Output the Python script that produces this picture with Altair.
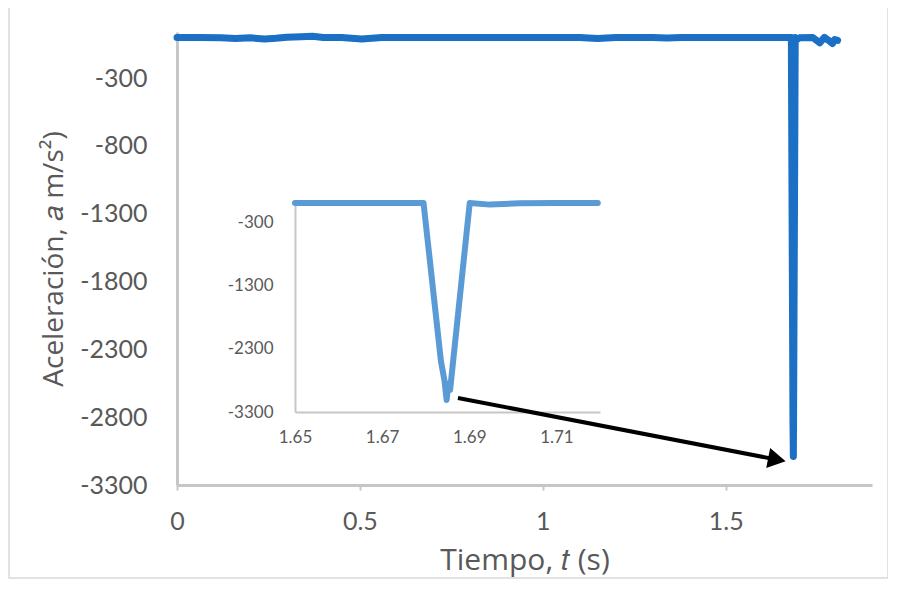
import altair as alt
import pandas as pd

# ---- data ----
MAIN_T = [0.000, 0.060, 0.120, 0.160, 0.200, 0.240, 0.270, 0.300, 0.340, 0.370,
          0.400, 0.450, 0.505, 0.560, 0.700, 0.850, 1.000, 1.100, 1.150, 1.200,
          1.300, 1.340, 1.380, 1.500, 1.600, 1.6795, 1.6840, 1.6850, 1.6856,
          1.6901, 1.6947, 1.7015, 1.738, 1.757, 1.770, 1.783, 1.792, 1.798, 1.806]
MAIN_A = [0, 0, -3, -8, -3, -12, -6, 2, 5, 8,
          0, 0, -12, 0, 0, 0, 0, 0, -8, 0,
          0, -5, 0, 0, 0, 0, -2850, -3090, -2800,
          0, -15, -3, 0, -40, 0, -25, -45, -15, -22]

INSET_T = [1.650, 1.6795, 1.6835, 1.6843, 1.6848, 1.6852, 1.6856, 1.6901,
           1.6947, 1.7015, 1.7100, 1.7195]
INSET_A = [0, 0, -2500, -2800, -3110, -2850, -2950, 0, -25, -5, 0, 0]

ARROW_T = [0.768, 1.640]
ARROW_A = [-2658, -3113]

MAIN_X_TICKS = [0, 0.5, 1, 1.5]
MAIN_Y_TICKS = [-300, -800, -1300, -1800, -2300, -2800, -3300]
INSET_X_TICKS = [1.65, 1.67, 1.69, 1.71]
INSET_Y_TICKS = [-300, -1300, -2300, -3300]

X_TITLE = "Tiempo, 𝑡 (s)"
Y_TITLE = "Aceleración, 𝑎 m/s²)"

# ---- styling ----
W, H = 695, 453
FONT = "Lato"
TFONT = "Open Sans"
TXT = "#595959"
AX = "#c6c6c6"
MAIN_BLUE = "#1b6fc4"
INSET_BLUE = "#5b9bd5"

main_df = pd.DataFrame({"t": MAIN_T, "a": MAIN_A})
inset_df = pd.DataFrame({"t": INSET_T, "a": INSET_A})
arrow_df = pd.DataFrame({"t": ARROW_T, "a": ARROW_A})
head_df = arrow_df.tail(1)

main_x = alt.X("t:Q",
               scale=alt.Scale(domain=[0, 1.9], nice=False, zero=False),
               axis=alt.Axis(values=MAIN_X_TICKS, title=X_TITLE, orient="bottom",
                             grid=False, domainColor=AX, domainWidth=3,
                             tickColor=AX, tickWidth=2, tickSize=5, labelFlush=False,
                             labelExpr="'' + datum.value",
                             labelFont=FONT, labelFontSize=25, labelColor=TXT,
                             labelPadding=19, titleFont=TFONT, titleFontSize=30,
                             titleColor=TXT, titleFontWeight="normal",
                             titlePadding=11))
main_y = alt.Y("a:Q",
               scale=alt.Scale(domain=[-3300, 40], nice=False, zero=False),
               axis=alt.Axis(values=MAIN_Y_TICKS, title=Y_TITLE, orient="left",
                             grid=False, domainColor=AX, domainWidth=3,
                             ticks=False, labelFlush=False,
                             labelExpr="'' + datum.value",
                             labelFont=FONT, labelFontSize=25, labelColor=TXT,
                             labelPadding=30, titleFont=TFONT, titleFontSize=28,
                             titleColor=TXT, titleFontWeight="normal",
                             titlePadding=11))

main_line = alt.Chart(main_df).mark_line(
    color=MAIN_BLUE, strokeWidth=7, strokeCap="round", strokeJoin="round"
).encode(x=main_x, y=main_y, order="t:Q")

arrow_line = alt.Chart(arrow_df).mark_line(
    color="black", strokeWidth=4
).encode(x="t:Q", y="a:Q")

arrow_head = alt.Chart(head_df).mark_point(
    shape="triangle-right", filled=True, color="black", size=420, angle=11, opacity=1
).encode(x="t:Q", y="a:Q")

frame = alt.Chart(pd.DataFrame({"k": [0]})).mark_rect(
    fill=None, stroke="#d9d9d9", strokeWidth=1.5
).encode(x=alt.value(-168), x2=alt.value(711), y=alt.value(-26), y2=alt.value(546))

main = alt.layer(frame, main_line, arrow_line, arrow_head)

inset_x = alt.X("t:Q",
                scale=alt.Scale(domain=[1.65, 1.72], range=[118, 423], nice=False, zero=False),
                axis=alt.Axis(values=INSET_X_TICKS, title=None, orient="bottom",
                              offset=-73, grid=False, domainColor=AX, domainWidth=2,
                              ticks=False, labelFlush=False,
                              labelExpr="'' + datum.value",
                              labelFont=FONT, labelFontSize=17, labelColor=TXT,
                              labelPadding=17))
inset_y = alt.Y("a:Q",
                scale=alt.Scale(domain=[-3300, 40], range=[380, 168.5], nice=False, zero=False),
                axis=alt.Axis(values=INSET_Y_TICKS, title=None, orient="left",
                              offset=-118, grid=False, domainColor=AX, domainWidth=2,
                              ticks=False, labelFlush=False,
                              labelExpr="'' + datum.value",
                              labelFont=FONT, labelFontSize=17, labelColor=TXT,
                              labelPadding=22))

inset = alt.Chart(inset_df).mark_line(
    color=INSET_BLUE, strokeWidth=6, strokeCap="round", strokeJoin="round"
).encode(x=inset_x, y=inset_y, order="t:Q")

chart = alt.layer(main, inset).resolve_scale(
    x="independent", y="independent"
).resolve_axis(x="independent", y="independent").properties(
    width=W, height=H,
    autosize=alt.AutoSizeParams(type="none"),
    padding={"left": 169, "top": 24, "right": 16, "bottom": 95},
    background="white",
).configure_view(stroke=None)

chart.save("out.html", embed_options={"renderer": "svg", "actions": False})
